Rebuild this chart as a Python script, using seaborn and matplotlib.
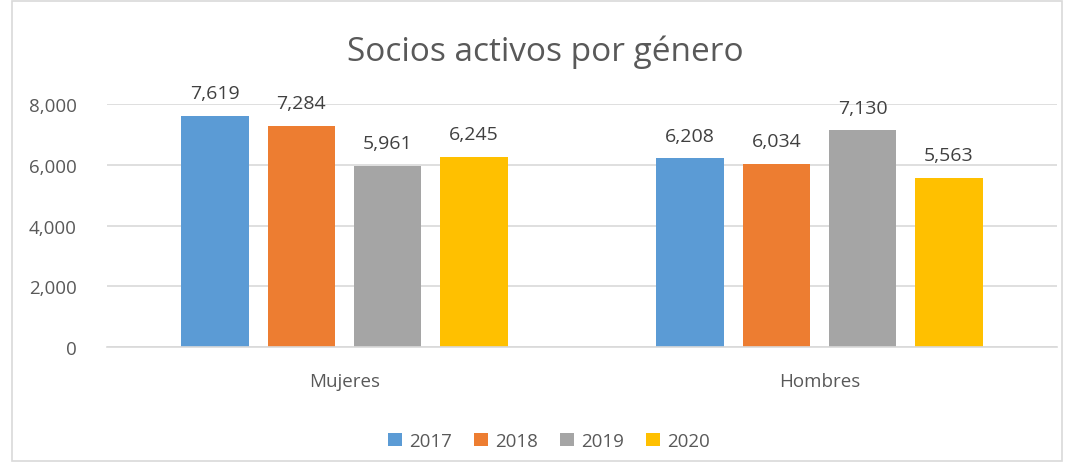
import matplotlib
matplotlib.use("Agg")
import matplotlib.pyplot as plt
import seaborn as sns
import pandas as pd
from matplotlib.patches import Rectangle

categories = ["Mujeres", "Hombres"]
years = ["2017", "2018", "2019", "2020"]
v2017 = [7619, 6208]
v2018 = [7284, 6034]
v2019 = [5961, 7130]
v2020 = [6245, 5563]
colors = ["#5B9BD5", "#ED7D31", "#A5A5A5", "#FFC000"]

rows = []
for y, vals in zip(years, [v2017, v2018, v2019, v2020]):
    for c, v in zip(categories, vals):
        rows.append({"cat": c, "year": y, "value": v})
df = pd.DataFrame(rows)

sns.set_theme(style="white")
plt.rcParams['font.family'] = ['Open Sans', 'DejaVu Sans']

fig = plt.figure(figsize=(10.66, 4.64), dpi=100)
ax = fig.add_axes([107/1066, 1 - 348/464, (1057-107)/1066, (348-105)/464])

sns.barplot(data=df, x="cat", y="value", hue="year", order=categories,
            hue_order=years, palette=colors, width=0.7265, gap=0.22,
            ax=ax, legend=True, saturation=1, linewidth=0)

ax.set_ylim(0, 8000)
ax.set_yticks([0, 2000, 4000, 6000, 8000])
ax.set_yticklabels([f"{t:,}" for t in [0, 2000, 4000, 6000, 8000]])
ax.yaxis.grid(True, color="#D9D9D9", linewidth=1.2)
ax.set_axisbelow(True)
for s in ["top", "right", "left"]:
    ax.spines[s].set_visible(False)
ax.spines["bottom"].set_color("#D9D9D9")
ax.spines["bottom"].set_linewidth(1.2)
ax.set_xlabel("")
ax.set_ylabel("")
ax.tick_params(axis="y", length=0, labelsize=13.5, colors="#595959", pad=22)
ax.tick_params(axis="x", length=0, labelsize=13.5, colors="#595959", pad=18)
ax.set_xlim(-0.5, 1.5)

for cont in ax.containers:
    ax.bar_label(cont, labels=[f"{int(v):,}" for v in cont.datavalues],
                 padding=10, fontsize=14, color="#404040")

ax.legend(loc="upper center", bbox_to_anchor=(0.465, -0.28), ncol=4, frameon=False,
          fontsize=13.5, handlelength=0.75, handleheight=0.75, handletextpad=0.35,
          columnspacing=1.2, labelcolor="#595959")

fig.text(545/1066, 1 - 52/464, "Socios activos por género", ha="center", va="center",
         fontsize=24, color="#595959")

fig.patches.append(Rectangle((12/1066, 2/464), (1062-12)/1066, (462-2)/464,
                             transform=fig.transFigure, fill=False,
                             edgecolor="#D9D9D9", linewidth=1.2))

fig.savefig("out.png", dpi=100)
